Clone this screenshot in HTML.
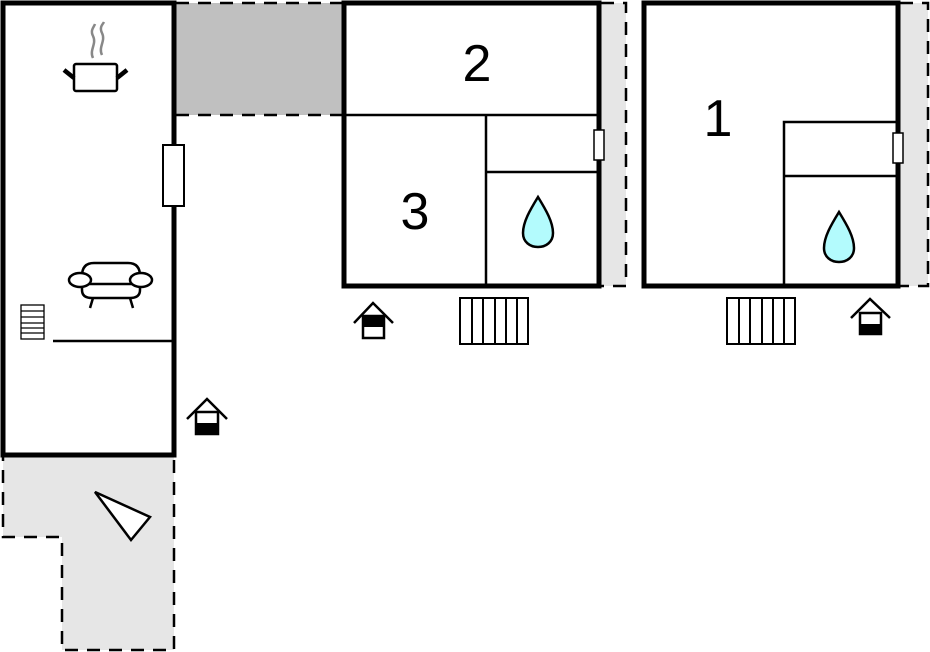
<!DOCTYPE html>
<html><head><meta charset="utf-8"><style>html,body{margin:0;padding:0;background:#fff;width:930px;height:652px;overflow:hidden}</style></head>
<body>
<svg width="930" height="652" viewBox="0 0 930 652" xmlns="http://www.w3.org/2000/svg" font-family="Liberation Sans, sans-serif">
<rect x="176" y="3" width="166" height="112" fill="#c0c0c0"/>
<line x1="176" y1="3" x2="342" y2="3" stroke="#000" stroke-width="2.5" stroke-dasharray="13,9"/>
<line x1="176" y1="115" x2="342" y2="115" stroke="#000" stroke-width="2.5" stroke-dasharray="13,9"/>
<polygon points="3,455 174,455 174,650 62,650 62,537 3,537" fill="#e6e6e6" stroke="#000" stroke-width="2.5" stroke-dasharray="13,9"/>
<polygon points="95,492 150,517 131,540" fill="#fff" stroke="#000" stroke-width="2.5"/>
<rect x="601" y="3" width="25" height="283" fill="#e6e6e6"/>
<polyline points="601,3 626,3 626,286 601,286" fill="none" stroke="#000" stroke-width="2.5" stroke-dasharray="13,9"/>
<rect x="900" y="3" width="28" height="283" fill="#e6e6e6"/>
<polyline points="900,3 928,3 928,286 900,286" fill="none" stroke="#000" stroke-width="2.5" stroke-dasharray="13,9"/>

<rect x="3" y="3" width="171" height="452" fill="#fff" stroke="#000" stroke-width="5"/>
<line x1="53" y1="341" x2="174" y2="341" stroke="#000" stroke-width="2.5"/>
<rect x="163" y="145" width="21" height="61" fill="#fff" stroke="#000" stroke-width="2"/>
<path d="M93,58 C89,50 97,44 93,36 C90,30 94,27 95,24" fill="none" stroke="#888" stroke-width="2.5"/>
<path d="M102,55 C98,47 106,41 102,33 C99,27 103,24 104,22" fill="none" stroke="#888" stroke-width="2.5"/>
<rect x="74" y="64" width="43" height="27" rx="2" fill="#fff" stroke="#000" stroke-width="2.5"/>
<line x1="64" y1="70" x2="74" y2="78" stroke="#000" stroke-width="4.5"/>
<line x1="117" y1="78" x2="127" y2="70" stroke="#000" stroke-width="4.5"/>
<path d="M82,276 Q82,263 94,263 L128,263 Q140,263 140,276 L140,290 Q140,298 130,298 L92,298 Q82,298 82,290 Z" fill="#fff" stroke="#000" stroke-width="2.5"/>
<line x1="88" y1="284" x2="134" y2="284" stroke="#000" stroke-width="2.5"/>
<ellipse cx="80" cy="280" rx="11" ry="7" fill="#fff" stroke="#000" stroke-width="2.5"/>
<ellipse cx="141" cy="280" rx="11" ry="7" fill="#fff" stroke="#000" stroke-width="2.5"/>
<line x1="93" y1="298" x2="90" y2="308" stroke="#000" stroke-width="2.5"/>
<line x1="130" y1="298" x2="133" y2="308" stroke="#000" stroke-width="2.5"/>
<rect x="21" y="305" width="23" height="34" fill="#fff" stroke="#000" stroke-width="1.3"/>
<g stroke="#000" stroke-width="1.3"><line x1="21" y1="311" x2="44" y2="311"/><line x1="21" y1="317" x2="44" y2="317"/><line x1="21" y1="323" x2="44" y2="323"/><line x1="21" y1="328" x2="44" y2="328"/><line x1="21" y1="333" x2="44" y2="333"/></g>

<rect x="344" y="3" width="255" height="283" fill="#fff" stroke="#000" stroke-width="5"/>
<line x1="344" y1="115" x2="599" y2="115" stroke="#000" stroke-width="2.5"/>
<line x1="486" y1="115" x2="486" y2="286" stroke="#000" stroke-width="2.5"/>
<line x1="486" y1="172" x2="599" y2="172" stroke="#000" stroke-width="2.5"/>
<rect x="594" y="130" width="10" height="30" fill="#fff" stroke="#000" stroke-width="1.5"/>
<text x="477" y="81" font-size="52" text-anchor="middle">2</text>
<text x="415" y="229" font-size="52" text-anchor="middle">3</text>
<path d="M538,197 C546,210 553,222 553,233 C553,242 546,247 538,247 C530,247 523,242 523,233 C523,222 530,210 538,197 Z" fill="#b3fbfd" stroke="#000" stroke-width="2.5"/>
<rect x="460" y="298" width="68" height="46" fill="#fff" stroke="#000" stroke-width="2"/>
<g stroke="#000" stroke-width="2"><line x1="472" y1="298" x2="472" y2="344"/><line x1="483" y1="298" x2="483" y2="344"/><line x1="495" y1="298" x2="495" y2="344"/><line x1="506" y1="298" x2="506" y2="344"/><line x1="517" y1="298" x2="517" y2="344"/></g>
<polyline points="354,323 373,303 393,323" fill="none" stroke="#000" stroke-width="2.5"/>
<rect x="363" y="316" width="21" height="22" fill="#fff" stroke="#000" stroke-width="2.5"/>
<rect x="363" y="316" width="21" height="11" fill="#000"/>

<rect x="644" y="3" width="254" height="283" fill="#fff" stroke="#000" stroke-width="5"/>
<polyline points="784,286 784,122 898,122" fill="none" stroke="#000" stroke-width="2.5"/>
<line x1="784" y1="176" x2="898" y2="176" stroke="#000" stroke-width="2.5"/>
<rect x="893" y="133" width="10" height="30" fill="#fff" stroke="#000" stroke-width="1.5"/>
<text x="718" y="136" font-size="52" text-anchor="middle">1</text>
<path d="M839,212 C847,225 854,237 854,248 C854,257 847,262 839,262 C831,262 824,257 824,248 C824,237 831,225 839,212 Z" fill="#b3fbfd" stroke="#000" stroke-width="2.5"/>
<rect x="727" y="298" width="68" height="46" fill="#fff" stroke="#000" stroke-width="2"/>
<g stroke="#000" stroke-width="2"><line x1="739" y1="298" x2="739" y2="344"/><line x1="750" y1="298" x2="750" y2="344"/><line x1="762" y1="298" x2="762" y2="344"/><line x1="773" y1="298" x2="773" y2="344"/><line x1="784" y1="298" x2="784" y2="344"/></g>
<polyline points="851,318 870,299 890,318" fill="none" stroke="#000" stroke-width="2.5"/>
<rect x="860" y="313" width="21" height="21" fill="#fff" stroke="#000" stroke-width="2.5"/>
<rect x="860" y="324" width="21" height="10" fill="#000"/>

<polyline points="187,419 207,399 227,419" fill="none" stroke="#000" stroke-width="2.5"/>
<rect x="196" y="412" width="22" height="22" fill="#fff" stroke="#000" stroke-width="2.5"/>
<rect x="196" y="423" width="22" height="11" fill="#000"/>
</svg>
</body></html>
